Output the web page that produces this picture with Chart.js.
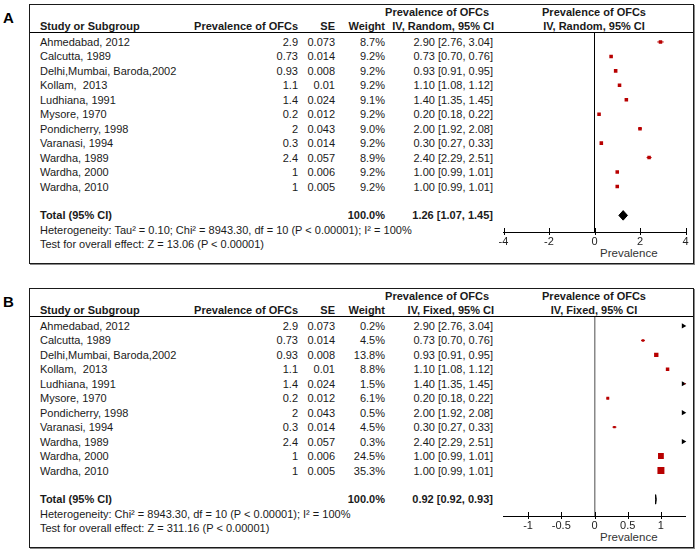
<!DOCTYPE html>
<html>
<head>
<meta charset="utf-8">
<script src="https://cdn.jsdelivr.net/npm/chart.js@4.4.0/dist/chart.umd.min.js"></script>
<style>
    body { margin: 0; background: #fff; width: 700px; height: 555px; position: relative; overflow: hidden;
           font-family: "Liberation Sans", Arial, sans-serif; font-size: 11px; color: #1a1a1a; }
    .panel { position: absolute; left: 0; width: 700px; height: 275px; }
    .box { position: absolute; left: 29px; top: 4px; width: 663px; height: 258px; border: 1px solid #1a1a1a; box-shadow: 1px 1px 0 #888; }
    .hline { position: absolute; left: 30px; top: 32px; width: 663px; height: 1px; background: #000; }
    .t { position: absolute; height: 14px; line-height: 14px; white-space: pre; }
    .b { font-weight: bold; }
    .letter { position: absolute; left: 3px; top: 8px; font-weight: bold; font-size: 15px; line-height: 19px; color: #000; }
    canvas { position: absolute; left: 460px; top: 4px; }
</style>
</head>
<body>
<script>
const studies = ["Ahmedabad, 2012", "Calcutta, 1989", "Delhi,Mumbai, Baroda,2002", "Kollam,  2013", "Ludhiana, 1991",
    "Mysore, 1970", "Pondicherry, 1998", "Varanasi, 1994", "Wardha, 1989", "Wardha, 2000", "Wardha, 2010"];
const prevalence = [2.9, 0.73, 0.93, 1.1, 1.4, 0.2, 2, 0.3, 2.4, 1, 1];
const se = [0.073, 0.014, 0.008, 0.01, 0.024, 0.012, 0.043, 0.014, 0.057, 0.006, 0.005];
const ciLow = [2.76, 0.70, 0.91, 1.08, 1.35, 0.18, 1.92, 0.27, 2.29, 0.99, 0.99];
const ciHigh = [3.04, 0.76, 0.95, 1.12, 1.45, 0.22, 2.08, 0.33, 2.51, 1.01, 1.01];
const weightRandom = [8.7, 9.2, 9.2, 9.2, 9.1, 9.2, 9.0, 9.2, 8.9, 9.2, 9.2];
const weightFixed = [0.2, 4.5, 13.8, 8.8, 1.5, 6.1, 0.5, 4.5, 0.3, 24.5, 35.3];
const pooledRandom = [1.26, 1.07, 1.45];   // estimate, low, high
const pooledFixed = [0.92, 0.92, 0.93];
const ticksA = [-4, -2, 0, 2, 4];
const ticksB = [-1, -0.5, 0, 0.5, 1];

const hetRandom = "Heterogeneity: Tau\u00b2 = 0.10; Chi\u00b2 = 8943.30, df = 10 (P < 0.00001); I\u00b2 = 100%";
const testRandom = "Test for overall effect: Z = 13.06 (P < 0.00001)";
const hetFixed = "Heterogeneity: Chi\u00b2 = 8943.30, df = 10 (P < 0.00001); I\u00b2 = 100%";
const testFixed = "Test for overall effect: Z = 311.16 (P < 0.00001)";

const totalRow = 12;
const rowTop = 42;
const rowStep = 14.45;
const markerRed = "#b80000";

function addText(parent, text, x, y, align, bold) {
    const el = document.createElement("div");
    el.className = "t" + (bold ? " b" : "");
    el.textContent = text;
    el.style.top = (y - 7) + "px";
    if (align === "right") {
        el.style.right = (700 - x) + "px";
    } else if (align === "center") {
        el.style.left = (x - 100) + "px";
        el.style.width = "200px";
        el.style.textAlign = "center";
    } else {
        el.style.left = x + "px";
    }
    parent.appendChild(el);
}

function fmtCi(est, lo, hi) {
    return est.toFixed(2) + " [" + lo.toFixed(2) + ", " + hi.toFixed(2) + "]";
}

function boxRadius(w) {
    return Math.max(1.2, 0.83 * Math.sqrt(w));
}

const crossTicks = {
    id: "crossTicks",
    afterDraw(chart) {
        const scale = chart.scales.x;
        const ctx = chart.ctx;
        const y0 = chart.chartArea.bottom;
        ctx.save();
        ctx.strokeStyle = "#000";
        ctx.lineWidth = 1;
        scale.ticks.forEach(t => {
            const px = Math.round(scale.getPixelForValue(t.value)) + 0.5;
            ctx.beginPath();
            ctx.moveTo(px, y0 - 4);
            ctx.lineTo(px, y0 + 3);
            ctx.stroke();
        });
        ctx.restore();
    }
};

function buildPanel(p) {
    const panel = document.createElement("div");
    panel.className = "panel";
    panel.style.top = p.top + "px";
    document.body.appendChild(panel);

    panel.innerHTML = '<div class="box"></div><div class="hline"></div><div class="letter">' + p.letter + '</div>';

    // header
    addText(panel, "Prevalence of OFCs", 489, 12, "right", true);
    addText(panel, "Prevalence of OFCs", 594, 12, "center", true);
    addText(panel, "Study or Subgroup", 40, 26, "left", true);
    addText(panel, "Prevalence of OFCs", 298, 26, "right", true);
    addText(panel, "SE", 335, 26, "right", true);
    addText(panel, "Weight", 385, 26, "right", true);
    addText(panel, "IV, " + p.model + ", 95% CI", 494, 26, "right", true);
    addText(panel, "IV, " + p.model + ", 95% CI", 594, 26, "center", true);

    studies.forEach((s, i) => {
        const y = rowTop + rowStep * i;
        addText(panel, s, 40, y, "left", false);
        addText(panel, String(prevalence[i]), 298, y, "right", false);
        addText(panel, String(se[i]), 335, y, "right", false);
        addText(panel, p.weights[i].toFixed(1) + "%", 385, y, "right", false);
        addText(panel, fmtCi(prevalence[i], ciLow[i], ciHigh[i]), 493, y, "right", false);
    });

    const yTotal = rowTop + rowStep * totalRow;
    addText(panel, "Total (95% CI)", 40, yTotal, "left", true);
    addText(panel, "100.0%", 385, yTotal, "right", true);
    addText(panel, fmtCi(p.pooled[0], p.pooled[1], p.pooled[2]), 493, yTotal, "right", true);
    addText(panel, p.het, 40, yTotal + 14.5, "left", false);
    addText(panel, p.test, 40, yTotal + 29, "left", false);

    const title = document.createElement("div");
    title.className = "t";
    title.style.left = "600px";
    title.style.top = "246px";
    title.style.fontSize = "11.5px";
    title.style.color = "#333";
    title.textContent = "Prevalence";
    panel.appendChild(title);

    const canvas = document.createElement("canvas");
    canvas.width = 240;
    canvas.height = 260;
    panel.appendChild(canvas);

    const datasets = [];
    studies.forEach((s, i) => {
        datasets.push({
            type: "scatter",
            showLine: true,
            data: [{ x: ciLow[i], y: i }, { x: ciHigh[i], y: i }],
            borderColor: markerRed,
            borderWidth: 1,
            pointRadius: 0
        });
    });

    datasets.push({
        type: "scatter",
        data: prevalence.map((v, i) => ({ x: v, y: i })),
        pointStyle: "rect",
        pointRadius: ctx => (ctx.raw && ctx.raw.x > p.xMax) ? 0 : boxRadius(p.weights[ctx.dataIndex]),
        backgroundColor: markerRed,
        borderWidth: 0
    });

    const arrows = [];
    ciHigh.forEach((v, i) => {
        if (v > p.xMax) arrows.push({ x: p.xMax - (p.xMax - p.xMin) * 0.012, y: i });
    });
    datasets.push({
        type: "scatter",
        data: arrows,
        pointStyle: "triangle",
        rotation: 90,
        pointRadius: 3,
        backgroundColor: "#000",
        borderWidth: 0,
        clip: false
    });

    const dh = 0.33;
    datasets.push({
        type: "scatter",
        showLine: true,
        data: [
            { x: p.pooled[1], y: totalRow },
            { x: p.pooled[0], y: totalRow - dh },
            { x: p.pooled[2], y: totalRow },
            { x: p.pooled[0], y: totalRow + dh },
            { x: p.pooled[1], y: totalRow }
        ],
        borderColor: "#000",
        borderWidth: 1,
        backgroundColor: "#000",
        fill: "shape",
        pointRadius: 0,
        tension: 0
    });

    new Chart(canvas, {
        type: "scatter",
        data: { datasets: datasets },
        options: {
            responsive: false,
            animation: false,
            devicePixelRatio: 1,
            events: [],
            layout: { padding: { left: 43.5, right: 14.5, top: 29, bottom: 0 } },
            plugins: { legend: { display: false }, tooltip: { enabled: false } },
            scales: {
                x: {
                    type: "linear",
                    min: p.xMin,
                    max: p.xMax,
                    afterBuildTicks: scale => { scale.ticks = p.ticks.map(v => ({ value: v })); },
                    afterFit: scale => { scale.height = 32; },
                    border: { display: true, color: "#000", width: 1 },
                    grid: {
                        drawTicks: false,
                        color: c => (c.tick && c.tick.value === 0) ? p.zeroColor : "rgba(0,0,0,0)",
                        lineWidth: c => (c.tick && c.tick.value === 0) ? p.zeroWidth : 0
                    },
                    ticks: {
                        padding: 3,
                        color: "#222",
                        maxRotation: 0,
                        autoSkip: false,
                        font: { family: "'Liberation Sans', Arial, sans-serif", size: 11 },
                        callback: v => String(v)
                    }
                },
                y: {
                    type: "linear",
                    display: false,
                    reverse: true,
                    min: -0.62,
                    max: 13.15
                }
            }
        },
        plugins: [crossTicks]
    });
}

buildPanel({ letter: "A", top: 0, model: "Random", weights: weightRandom, pooled: pooledRandom,
    het: hetRandom, test: testRandom, xMin: -4, xMax: 4, ticks: ticksA, zeroColor: "#000", zeroWidth: 1 });
buildPanel({ letter: "B", top: 284, model: "Fixed", weights: weightFixed, pooled: pooledFixed,
    het: hetFixed, test: testFixed, xMin: -1.37, xMax: 1.37, ticks: ticksB, zeroColor: "#888", zeroWidth: 1.5 });
</script>
</body>
</html>
